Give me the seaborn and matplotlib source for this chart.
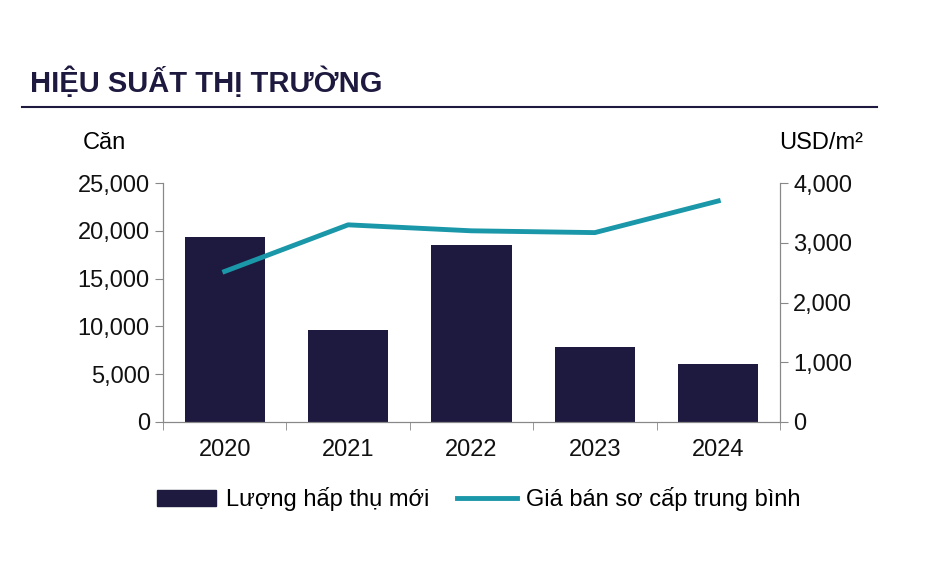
import matplotlib
matplotlib.use("Agg")
import matplotlib.pyplot as plt
import seaborn as sns
import pandas as pd
from matplotlib.patches import Patch
from matplotlib.lines import Line2D

years = ["2020", "2021", "2022", "2023", "2024"]
absorption = [19400, 9600, 18500, 7800, 6100]
price = [2520, 3300, 3200, 3170, 3700]

navy = "#1e1a3f"
teal = "#1a97a8"
plt.rcParams["font.family"] = "Liberation Sans"

fig = plt.figure(figsize=(9.39, 5.64), dpi=100)
ax = fig.add_axes([0.1736, 0.2518, 0.657, 0.4237])
df = pd.DataFrame({"year": years, "abs": absorption, "price": price, "pos": range(len(years))})
sns.barplot(data=df, x="year", y="abs", color=navy, width=0.65, saturation=1, ax=ax)
ax2 = ax.twinx()
sns.lineplot(data=df, x="pos", y="price", color=teal, lw=3.5, ax=ax2)

ax.set_xlim(-0.5, 4.5)
ax.set_ylim(0, 25000)
ax2.set_ylim(0, 4000)
ax.set_yticks(range(0, 25001, 5000))
ax.set_yticklabels([f"{v:,}" for v in range(0, 25001, 5000)])
ax2.set_yticks(range(0, 4001, 1000))
ax2.set_yticklabels([f"{v:,}" for v in range(0, 4001, 1000)])
ax.set_xlabel(""); ax.set_ylabel(""); ax2.set_xlabel(""); ax2.set_ylabel("")
for a in (ax, ax2):
    a.spines["top"].set_visible(False)
    for s in a.spines.values():
        s.set_color("#888888")
    a.tick_params(labelsize=17, colors="#888888", labelcolor="#111111", length=6)
ax.set_xticks([-0.5, 0.5, 1.5, 2.5, 3.5, 4.5], minor=True)
ax.tick_params(axis="x", which="major", length=0, pad=12)
ax.tick_params(axis="x", which="minor", length=6, color="#888888")

fig.text(0.088, 0.735, "Căn", fontsize=17, ha="left")
fig.text(0.83, 0.735, "USD/m²", fontsize=17, ha="left")
fig.text(0.032, 0.855, "HIỆU SUẤT THỊ TRƯỜNG", fontsize=21, fontweight="bold", color=navy, va="center")
fig.add_artist(Line2D([0.023, 0.934], [0.81, 0.81], color=navy, lw=1.5))

handles = [Patch(color=navy, label="Lượng hấp thụ mới"),
           Line2D([], [], color=teal, lw=3.5, label="Giá bán sơ cấp trung bình")]
fig.legend(handles=handles, loc="center", bbox_to_anchor=(0.51, 0.115), ncol=2,
           frameon=False, fontsize=17, handlelength=2.5, columnspacing=1.2, handletextpad=0.4)
fig.savefig("out.png", dpi=100)
